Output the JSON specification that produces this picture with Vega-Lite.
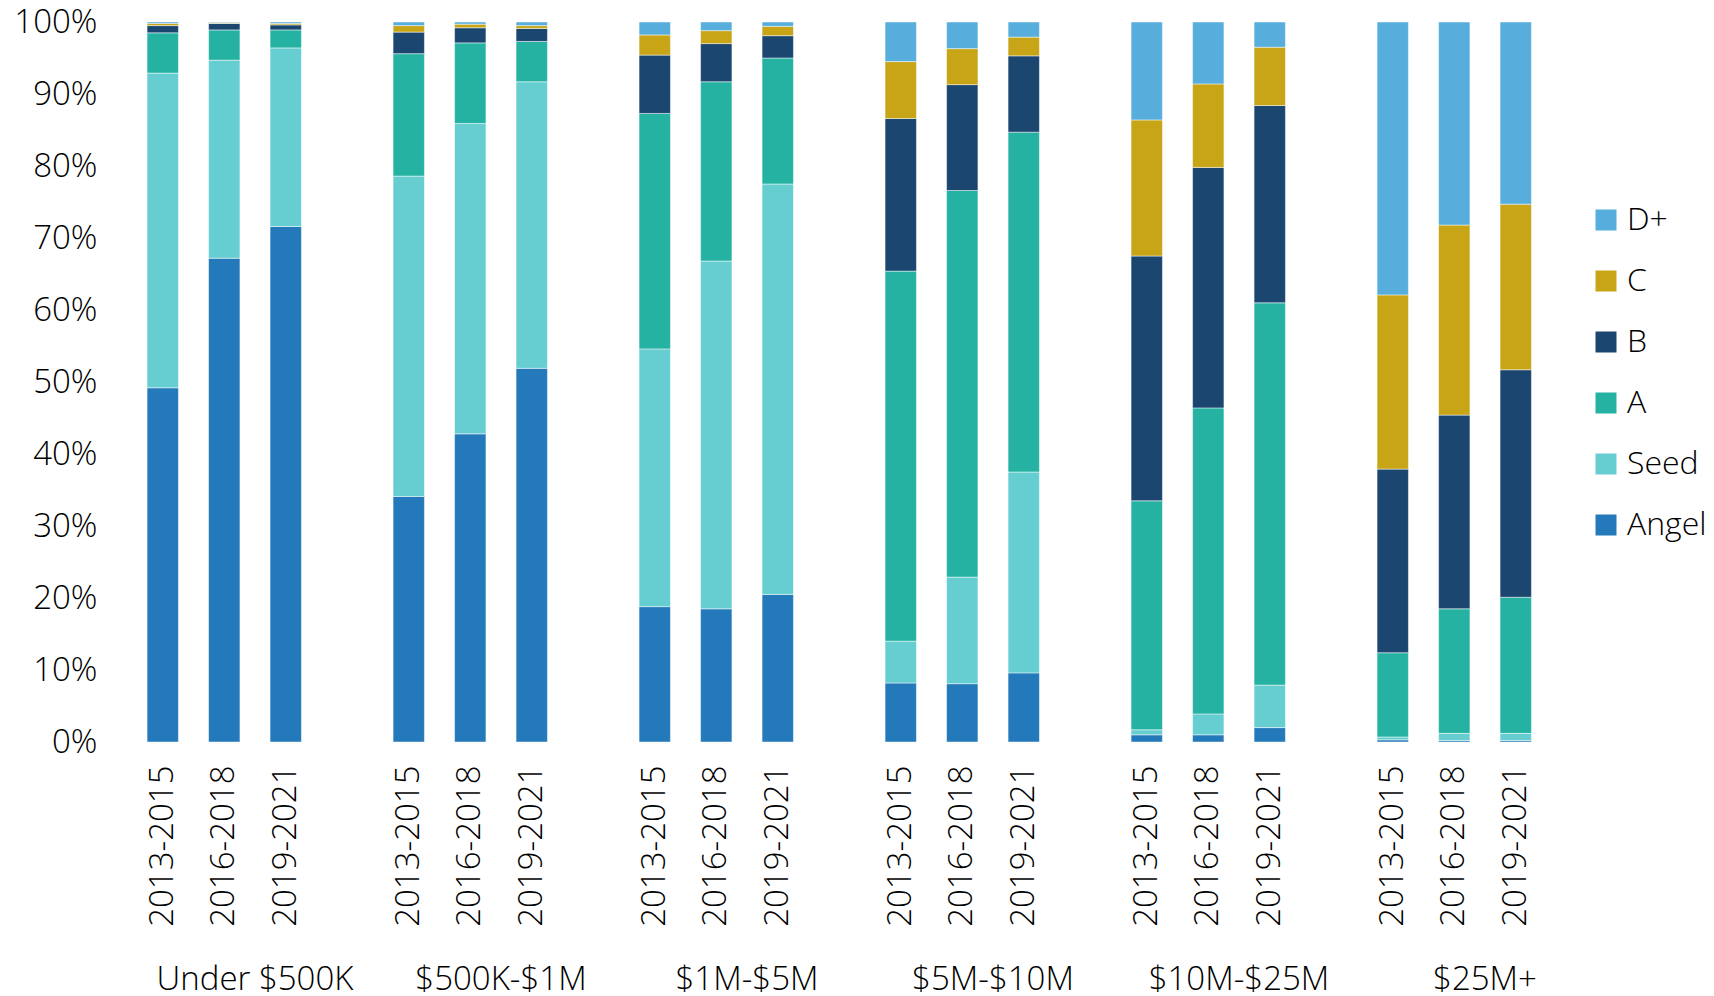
{
  "$schema": "https://vega.github.io/schema/vega-lite/v6.json",
  "padding": {"left": 13, "top": 6, "right": 0, "bottom": 0},
  "datasets": {
    "stages": [
      {"stage": "Angel", "rank": 1},
      {"stage": "Seed", "rank": 2},
      {"stage": "A", "rank": 3},
      {"stage": "B", "rank": 4},
      {"stage": "C", "rank": 5},
      {"stage": "D+", "rank": 6}
    ],
    "rounds": [
      {"size": "Under $500K", "period": "2013-2015", "stage": "Angel", "share": 49.2},
      {"size": "Under $500K", "period": "2013-2015", "stage": "Seed", "share": 43.7},
      {"size": "Under $500K", "period": "2013-2015", "stage": "A", "share": 5.6},
      {"size": "Under $500K", "period": "2013-2015", "stage": "B", "share": 1.0},
      {"size": "Under $500K", "period": "2013-2015", "stage": "C", "share": 0.3},
      {"size": "Under $500K", "period": "2013-2015", "stage": "D+", "share": 0.2},
      {"size": "Under $500K", "period": "2016-2018", "stage": "Angel", "share": 67.2},
      {"size": "Under $500K", "period": "2016-2018", "stage": "Seed", "share": 27.5},
      {"size": "Under $500K", "period": "2016-2018", "stage": "A", "share": 4.2},
      {"size": "Under $500K", "period": "2016-2018", "stage": "B", "share": 0.9},
      {"size": "Under $500K", "period": "2016-2018", "stage": "C", "share": 0.1},
      {"size": "Under $500K", "period": "2016-2018", "stage": "D+", "share": 0.1},
      {"size": "Under $500K", "period": "2019-2021", "stage": "Angel", "share": 71.6},
      {"size": "Under $500K", "period": "2019-2021", "stage": "Seed", "share": 24.8},
      {"size": "Under $500K", "period": "2019-2021", "stage": "A", "share": 2.5},
      {"size": "Under $500K", "period": "2019-2021", "stage": "B", "share": 0.7},
      {"size": "Under $500K", "period": "2019-2021", "stage": "C", "share": 0.2},
      {"size": "Under $500K", "period": "2019-2021", "stage": "D+", "share": 0.2},
      {"size": "$500K-$1M", "period": "2013-2015", "stage": "Angel", "share": 34.1},
      {"size": "$500K-$1M", "period": "2013-2015", "stage": "Seed", "share": 44.5},
      {"size": "$500K-$1M", "period": "2013-2015", "stage": "A", "share": 17.0},
      {"size": "$500K-$1M", "period": "2013-2015", "stage": "B", "share": 3.0},
      {"size": "$500K-$1M", "period": "2013-2015", "stage": "C", "share": 0.9},
      {"size": "$500K-$1M", "period": "2013-2015", "stage": "D+", "share": 0.5},
      {"size": "$500K-$1M", "period": "2016-2018", "stage": "Angel", "share": 42.8},
      {"size": "$500K-$1M", "period": "2016-2018", "stage": "Seed", "share": 43.1},
      {"size": "$500K-$1M", "period": "2016-2018", "stage": "A", "share": 11.2},
      {"size": "$500K-$1M", "period": "2016-2018", "stage": "B", "share": 2.1},
      {"size": "$500K-$1M", "period": "2016-2018", "stage": "C", "share": 0.5},
      {"size": "$500K-$1M", "period": "2016-2018", "stage": "D+", "share": 0.3},
      {"size": "$500K-$1M", "period": "2019-2021", "stage": "Angel", "share": 51.9},
      {"size": "$500K-$1M", "period": "2019-2021", "stage": "Seed", "share": 39.8},
      {"size": "$500K-$1M", "period": "2019-2021", "stage": "A", "share": 5.6},
      {"size": "$500K-$1M", "period": "2019-2021", "stage": "B", "share": 1.8},
      {"size": "$500K-$1M", "period": "2019-2021", "stage": "C", "share": 0.4},
      {"size": "$500K-$1M", "period": "2019-2021", "stage": "D+", "share": 0.5},
      {"size": "$1M-$5M", "period": "2013-2015", "stage": "Angel", "share": 18.8},
      {"size": "$1M-$5M", "period": "2013-2015", "stage": "Seed", "share": 35.8},
      {"size": "$1M-$5M", "period": "2013-2015", "stage": "A", "share": 32.7},
      {"size": "$1M-$5M", "period": "2013-2015", "stage": "B", "share": 8.1},
      {"size": "$1M-$5M", "period": "2013-2015", "stage": "C", "share": 2.8},
      {"size": "$1M-$5M", "period": "2013-2015", "stage": "D+", "share": 1.8},
      {"size": "$1M-$5M", "period": "2016-2018", "stage": "Angel", "share": 18.5},
      {"size": "$1M-$5M", "period": "2016-2018", "stage": "Seed", "share": 48.3},
      {"size": "$1M-$5M", "period": "2016-2018", "stage": "A", "share": 24.9},
      {"size": "$1M-$5M", "period": "2016-2018", "stage": "B", "share": 5.3},
      {"size": "$1M-$5M", "period": "2016-2018", "stage": "C", "share": 1.8},
      {"size": "$1M-$5M", "period": "2016-2018", "stage": "D+", "share": 1.2},
      {"size": "$1M-$5M", "period": "2019-2021", "stage": "Angel", "share": 20.5},
      {"size": "$1M-$5M", "period": "2019-2021", "stage": "Seed", "share": 57.0},
      {"size": "$1M-$5M", "period": "2019-2021", "stage": "A", "share": 17.5},
      {"size": "$1M-$5M", "period": "2019-2021", "stage": "B", "share": 3.1},
      {"size": "$1M-$5M", "period": "2019-2021", "stage": "C", "share": 1.3},
      {"size": "$1M-$5M", "period": "2019-2021", "stage": "D+", "share": 0.6},
      {"size": "$5M-$10M", "period": "2013-2015", "stage": "Angel", "share": 8.2},
      {"size": "$5M-$10M", "period": "2013-2015", "stage": "Seed", "share": 5.8},
      {"size": "$5M-$10M", "period": "2013-2015", "stage": "A", "share": 51.4},
      {"size": "$5M-$10M", "period": "2013-2015", "stage": "B", "share": 21.2},
      {"size": "$5M-$10M", "period": "2013-2015", "stage": "C", "share": 7.9},
      {"size": "$5M-$10M", "period": "2013-2015", "stage": "D+", "share": 5.5},
      {"size": "$5M-$10M", "period": "2016-2018", "stage": "Angel", "share": 8.1},
      {"size": "$5M-$10M", "period": "2016-2018", "stage": "Seed", "share": 14.8},
      {"size": "$5M-$10M", "period": "2016-2018", "stage": "A", "share": 53.7},
      {"size": "$5M-$10M", "period": "2016-2018", "stage": "B", "share": 14.7},
      {"size": "$5M-$10M", "period": "2016-2018", "stage": "C", "share": 5.0},
      {"size": "$5M-$10M", "period": "2016-2018", "stage": "D+", "share": 3.7},
      {"size": "$5M-$10M", "period": "2019-2021", "stage": "Angel", "share": 9.6},
      {"size": "$5M-$10M", "period": "2019-2021", "stage": "Seed", "share": 27.9},
      {"size": "$5M-$10M", "period": "2019-2021", "stage": "A", "share": 47.2},
      {"size": "$5M-$10M", "period": "2019-2021", "stage": "B", "share": 10.6},
      {"size": "$5M-$10M", "period": "2019-2021", "stage": "C", "share": 2.6},
      {"size": "$5M-$10M", "period": "2019-2021", "stage": "D+", "share": 2.1},
      {"size": "$10M-$25M", "period": "2013-2015", "stage": "Angel", "share": 1.0},
      {"size": "$10M-$25M", "period": "2013-2015", "stage": "Seed", "share": 0.7},
      {"size": "$10M-$25M", "period": "2013-2015", "stage": "A", "share": 31.8},
      {"size": "$10M-$25M", "period": "2013-2015", "stage": "B", "share": 34.0},
      {"size": "$10M-$25M", "period": "2013-2015", "stage": "C", "share": 18.9},
      {"size": "$10M-$25M", "period": "2013-2015", "stage": "D+", "share": 13.6},
      {"size": "$10M-$25M", "period": "2016-2018", "stage": "Angel", "share": 1.0},
      {"size": "$10M-$25M", "period": "2016-2018", "stage": "Seed", "share": 2.9},
      {"size": "$10M-$25M", "period": "2016-2018", "stage": "A", "share": 42.5},
      {"size": "$10M-$25M", "period": "2016-2018", "stage": "B", "share": 33.4},
      {"size": "$10M-$25M", "period": "2016-2018", "stage": "C", "share": 11.6},
      {"size": "$10M-$25M", "period": "2016-2018", "stage": "D+", "share": 8.6},
      {"size": "$10M-$25M", "period": "2019-2021", "stage": "Angel", "share": 2.0},
      {"size": "$10M-$25M", "period": "2019-2021", "stage": "Seed", "share": 5.9},
      {"size": "$10M-$25M", "period": "2019-2021", "stage": "A", "share": 53.1},
      {"size": "$10M-$25M", "period": "2019-2021", "stage": "B", "share": 27.4},
      {"size": "$10M-$25M", "period": "2019-2021", "stage": "C", "share": 8.1},
      {"size": "$10M-$25M", "period": "2019-2021", "stage": "D+", "share": 3.5},
      {"size": "$25M+", "period": "2013-2015", "stage": "Angel", "share": 0.3},
      {"size": "$25M+", "period": "2013-2015", "stage": "Seed", "share": 0.4},
      {"size": "$25M+", "period": "2013-2015", "stage": "A", "share": 11.7},
      {"size": "$25M+", "period": "2013-2015", "stage": "B", "share": 25.5},
      {"size": "$25M+", "period": "2013-2015", "stage": "C", "share": 24.2},
      {"size": "$25M+", "period": "2013-2015", "stage": "D+", "share": 37.9},
      {"size": "$25M+", "period": "2016-2018", "stage": "Angel", "share": 0.2},
      {"size": "$25M+", "period": "2016-2018", "stage": "Seed", "share": 1.0},
      {"size": "$25M+", "period": "2016-2018", "stage": "A", "share": 17.3},
      {"size": "$25M+", "period": "2016-2018", "stage": "B", "share": 26.9},
      {"size": "$25M+", "period": "2016-2018", "stage": "C", "share": 26.4},
      {"size": "$25M+", "period": "2016-2018", "stage": "D+", "share": 28.2},
      {"size": "$25M+", "period": "2019-2021", "stage": "Angel", "share": 0.2},
      {"size": "$25M+", "period": "2019-2021", "stage": "Seed", "share": 1.0},
      {"size": "$25M+", "period": "2019-2021", "stage": "A", "share": 18.9},
      {"size": "$25M+", "period": "2019-2021", "stage": "B", "share": 31.6},
      {"size": "$25M+", "period": "2019-2021", "stage": "C", "share": 23.0},
      {"size": "$25M+", "period": "2019-2021", "stage": "D+", "share": 25.3}
    ]
  },
  "data": {"name": "rounds"},
  "transform": [
    {"lookup": "stage", "from": {"data": {"name": "stages"}, "key": "stage", "fields": ["rank"]}}
  ],
  "facet": {
    "column": {
      "field": "size",
      "type": "nominal",
      "sort": ["Under $500K", "$500K-$1M", "$1M-$5M", "$5M-$10M", "$10M-$25M", "$25M+"],
      "header": {
        "title": null,
        "labelOrient": "bottom",
        "labelExpr": "datum.label == '$25M+' ? '$25M+\u2003\u2003' : datum.label",
        "labelFont": "Open Sans",
        "labelFontSize": 33,
        "labelFontWeight": 300,
        "labelColor": "#000000",
        "labelPadding": 38
      }
    }
  },
  "spacing": 0,
  "spec": {
    "width": 246,
    "height": 720,
    "mark": {"type": "bar", "stroke": "#ffffff", "strokeWidth": 0.8, "strokeOpacity": 0.6},
    "encoding": {
      "x": {
        "field": "period",
        "type": "nominal",
        "scale": {"paddingInner": 0.49, "paddingOuter": 0.745, "align": 0.1645},
        "axis": {
          "title": null,
          "labelAngle": -90,
          "domain": false,
          "ticks": false,
          "labelPadding": 22,
          "labelFont": "Open Sans",
          "labelFontSize": 33,
          "labelFontWeight": 300,
          "labelColor": "#000000"
        }
      },
      "y": {
        "field": "share",
        "type": "quantitative",
        "stack": "normalize",
        "scale": {"domain": [0, 1]},
        "axis": {
          "title": null,
          "format": ".0%",
          "values": [0, 0.1, 0.2, 0.3, 0.4, 0.5, 0.6, 0.7, 0.8, 0.9, 1],
          "grid": false,
          "domain": false,
          "ticks": false,
          "labelPadding": 35,
          "labelFont": "Open Sans",
          "labelFontSize": 33,
          "labelFontWeight": 300,
          "labelColor": "#000000"
        }
      },
      "color": {
        "field": "stage",
        "type": "nominal",
        "scale": {
          "domain": ["D+", "C", "B", "A", "Seed", "Angel"],
          "range": ["#57AEDC", "#C7A516", "#1A4670", "#26B2A2", "#66CED1", "#2479BA"]
        },
        "legend": {
          "title": null,
          "orient": "none",
          "legendX": 1458,
          "legendY": 182,
          "padding": 0,
          "symbolType": "square",
          "symbolSize": 441,
          "symbolStrokeWidth": 0,
          "labelFont": "Open Sans",
          "labelFontSize": 32,
          "labelFontWeight": 300,
          "labelColor": "#000000",
          "labelOffset": 5,
          "rowPadding": 29
        }
      },
      "order": {"field": "rank", "type": "quantitative"}
    }
  },
  "config": {
    "view": {"stroke": null},
    "font": "Open Sans"
  }
}
